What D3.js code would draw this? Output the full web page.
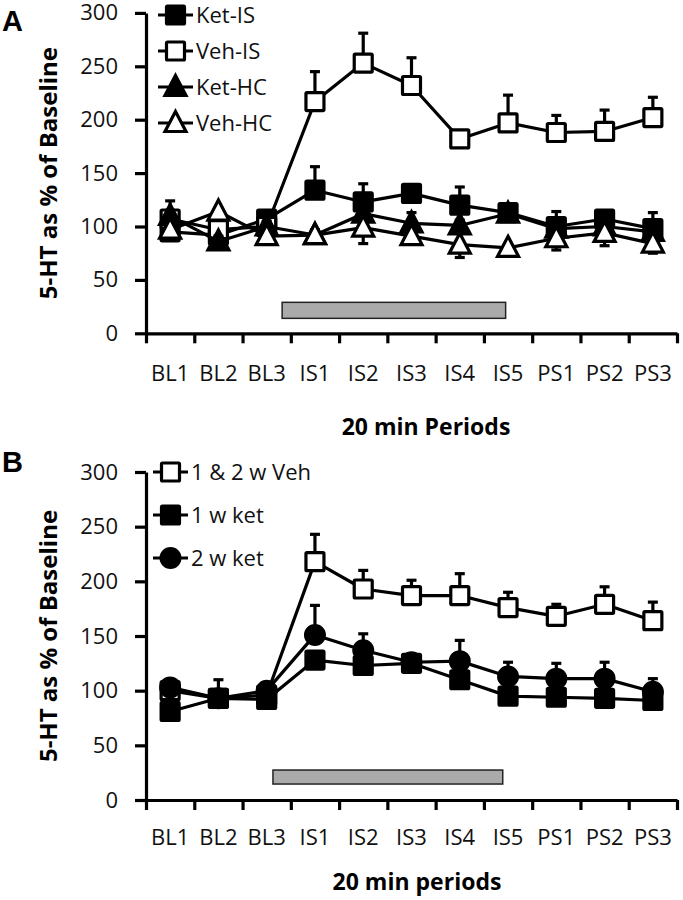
<!DOCTYPE html>
<html><head><meta charset="utf-8">
<script src="https://cdn.jsdelivr.net/npm/d3@7"></script>
<style>body{margin:0;background:#fff}svg{display:block}</style>
</head><body>
<svg id="chart" width="683" height="900"></svg>
<script>
// ---------- data ----------
const categories = ["BL1","BL2","BL3","IS1","IS2","IS3","IS4","IS5","PS1","PS2","PS3"];
const yTicks = [0,50,100,150,200,250,300];

// Panel A
const ketIS    = [95, 92, 107, 134, 123, 131, 120, 113, 100, 107, 98];
const ketISErr = [8, 5, 5, 22, 17, 8, 17, 5, 14, 5, 15];
const vehIS    = [107, 97, 100, 217, 253, 232, 182, 197, 188, 189, 202];
const vehISErr = [8, 6, 5, 28, 28, 26, 4, 26, 16, 20, 19];
const ketHC    = [110, 86, 100, 92, 112, 103, 101, 112, 98, 100, 95];
const ketHCErr = [14, 5, 5, 5, 8, 10, 5, 5, 8, 5, 5];
const vehHC    = [97, 114, 91, 92, 99, 91, 83, 80, 89, 94, 84];
const vehHCErr = [5, 5, 5, 5, 15, 5, 12, 5, 11, 12, 9];
const stressA  = {from: 2.82, to: 7.45, low: 14, high: 29};

// Panel B
const veh12    = [100, 93, 96, 218, 193, 187, 187, 176, 168, 179, 164];
const veh12Err = [6, 8, 5, 25, 17, 14, 20, 14, 11, 16, 17];
const ket1w    = [81, 93, 92, 128, 123, 125, 110, 95, 94, 93, 91];
const ket1wErr = [5, 5, 5, 5, 5, 5, 5, 5, 5, 5, 5];
const ket2w    = [103, 93, 100, 151, 137, 126, 127, 113, 111, 111, 99];
const ket2wErr = [7, 17, 5, 27, 15, 6, 19, 13, 14, 15, 12];
const stressB  = {from: 2.63, to: 7.39, low: 14.6, high: 27.4};

// ---------- drawing ----------
const svg = d3.select("#chart");
const FONT = "'Open Sans', sans-serif";
const LW = 3.2;

function marker(g, shape, filled, x, y) {
  const fill = filled ? "#000" : "#fff";
  if (shape === "square") {
    g.append("rect").attr("x", x - 9).attr("y", y - 9).attr("width", 18).attr("height", 18)
      .attr("fill", fill).attr("stroke", "#000").attr("stroke-width", 3.2).attr("rx", 1);
  } else if (shape === "triangle") {
    const p = d3.path();
    p.moveTo(x, y - 11.5); p.lineTo(x + 10.5, y + 8.5); p.lineTo(x - 10.5, y + 8.5); p.closePath();
    g.append("path").attr("d", p.toString()).attr("fill", fill).attr("stroke", "#000")
      .attr("stroke-width", 3.2).attr("stroke-linejoin", "miter");
  } else {
    g.append("circle").attr("cx", x).attr("cy", y).attr("r", 10).attr("fill", fill)
      .attr("stroke", "#000").attr("stroke-width", 2);
  }
}

function drawPanel(cfg) {
  const x = d3.scaleLinear().domain([0, categories.length]).range([146, 677]);
  const y = d3.scaleLinear().domain([0, 300]).range([cfg.bottom, cfg.top]);
  const g = svg.append("g");

  // stress bar
  g.append("rect")
    .attr("x", x(cfg.stress.from)).attr("y", y(cfg.stress.high))
    .attr("width", x(cfg.stress.to) - x(cfg.stress.from))
    .attr("height", y(cfg.stress.low) - y(cfg.stress.high))
    .attr("fill", "#aaaaaa").attr("stroke", "#222").attr("stroke-width", 1.5);

  // y axis
  const ya = g.append("g").attr("transform", `translate(${x(0)},0)`)
    .call(d3.axisLeft(y).tickValues(yTicks).tickSize(11).tickPadding(17).tickSizeOuter(0));
  ya.select(".domain").attr("stroke-width", LW);
  ya.selectAll(".tick line").attr("stroke-width", LW);
  ya.selectAll("text").attr("font-family", FONT).attr("font-size", 22).attr("fill", "#111");

  // x axis
  const xa = g.append("g").attr("transform", `translate(0,${cfg.bottom})`)
    .call(d3.axisBottom(x).tickValues(d3.range(0, categories.length + 1)).tickSize(10).tickFormat("").tickSizeOuter(0));
  xa.select(".domain").attr("stroke-width", LW);
  xa.selectAll(".tick line").attr("stroke-width", LW);
  g.selectAll(".xlab").data(categories).enter().append("text")
    .attr("x", (d, i) => x(i + 0.5)).attr("y", cfg.labelY)
    .attr("text-anchor", "middle").attr("font-family", FONT).attr("font-size", 22).attr("fill", "#111")
    .text(d => d);

  // titles
  g.append("text").attr("x", cfg.titleX).attr("y", cfg.titleY).attr("text-anchor", "middle")
    .attr("font-family", FONT).attr("font-weight", "bold").attr("font-size", 23).text(cfg.xTitle);
  const yc = (cfg.top + cfg.bottom) / 2;
  g.append("text").attr("transform", `translate(57,${yc}) rotate(-90)`).attr("text-anchor", "middle")
    .attr("font-family", FONT).attr("font-weight", "bold").attr("font-size", 24).text("5-HT as % of Baseline");
  g.append("text").attr("x", 2).attr("y", cfg.letterY).attr("font-family", "'Liberation Sans', Arial, sans-serif")
    .attr("font-weight", "bold").attr("font-size", 29).text(cfg.letter);

  // series
  const line = d3.line().x((d, i) => x(i + 0.5)).y(d => y(d));
  cfg.series.forEach(s => {
    const sg = g.append("g");
    sg.append("path").attr("d", line(s.values)).attr("fill", "none").attr("stroke", "#000")
      .attr("stroke-width", LW).attr("stroke-linejoin", "round");
    s.values.forEach((v, i) => {
      const cx = x(i + 0.5);
      const end = v + s.dir * s.err[i];
      sg.append("line").attr("x1", cx).attr("x2", cx).attr("y1", y(v)).attr("y2", y(end))
        .attr("stroke", "#000").attr("stroke-width", LW);
      sg.append("line").attr("x1", cx - 5).attr("x2", cx + 5).attr("y1", y(end)).attr("y2", y(end))
        .attr("stroke", "#000").attr("stroke-width", LW);
    });
    s.values.forEach((v, i) => marker(sg, s.shape, s.filled, x(i + 0.5), y(v)));
  });

  // legend
  cfg.series.forEach((s, k) => {
    const ly = cfg.legendY + k * cfg.legendStep;
    g.append("line").attr("x1", cfg.legendX).attr("x2", cfg.legendX + 35).attr("y1", ly).attr("y2", ly)
      .attr("stroke", "#000").attr("stroke-width", LW);
    marker(g, s.shape, s.filled, cfg.legendX + 17.5, ly);
    g.append("text").attr("x", cfg.legendX + 38).attr("y", ly).attr("dy", "0.36em")
      .attr("font-family", FONT).attr("font-size", 22).attr("fill", "#111").text(s.name);
  });
}

drawPanel({
  top: 12.9, bottom: 333.3, labelY: 381, titleX: 426, titleY: 435, xTitle: "20 min Periods",
  letter: "A", letterY: 31, stress: stressA, legendX: 158, legendY: 15, legendStep: 36,
  series: [
    {name: "Ket-IS", values: ketIS, err: ketISErr, shape: "square", filled: true, dir: 1},
    {name: "Veh-IS", values: vehIS, err: vehISErr, shape: "square", filled: false, dir: 1},
    {name: "Ket-HC", values: ketHC, err: ketHCErr, shape: "triangle", filled: true, dir: 1},
    {name: "Veh-HC", values: vehHC, err: vehHCErr, shape: "triangle", filled: false, dir: -1}
  ]
});

drawPanel({
  top: 472, bottom: 800, labelY: 845, titleX: 417, titleY: 890, xTitle: "20 min periods",
  letter: "B", letterY: 472, stress: stressB, legendX: 153, legendY: 472, legendStep: 43,
  series: [
    {name: "1 & 2 w Veh", values: veh12, err: veh12Err, shape: "square", filled: false, dir: 1},
    {name: "1 w ket", values: ket1w, err: ket1wErr, shape: "square", filled: true, dir: 1},
    {name: "2 w ket", values: ket2w, err: ket2wErr, shape: "circle", filled: true, dir: 1}
  ]
});
</script>
</body></html>
